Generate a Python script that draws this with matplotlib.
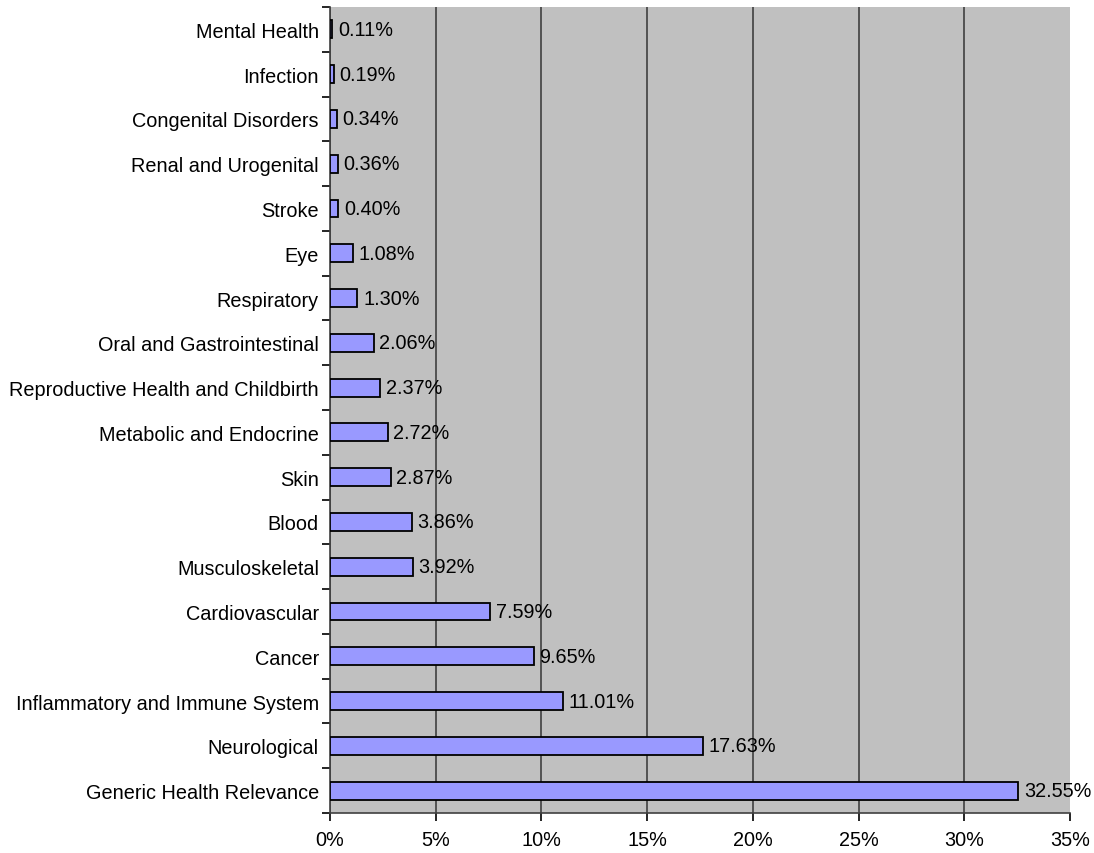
import matplotlib.pyplot as plt
import numpy as np

plt.rcParams['font.family'] = ['Liberation Sans', 'DejaVu Sans']

# categories bottom to top
categories = ["Generic Health Relevance", "Neurological", "Inflammatory and Immune System",
              "Cancer", "Cardiovascular", "Musculoskeletal", "Blood", "Skin",
              "Metabolic and Endocrine", "Reproductive Health and Childbirth",
              "Oral and Gastrointestinal", "Respiratory", "Eye", "Stroke",
              "Renal and Urogenital", "Congenital Disorders", "Infection", "Mental Health"]
values = [32.55, 17.63, 11.01, 9.65, 7.59, 3.92, 3.86, 2.87, 2.72, 2.37,
          2.06, 1.30, 1.08, 0.40, 0.36, 0.34, 0.19, 0.11]
xticks = [0, 5, 10, 15, 20, 25, 30, 35]

fs = 14.3

fig = plt.figure(figsize=(10.94, 8.54), dpi=100)
ax = fig.add_axes([330/1094, 1-814/854, 740/1094, 806/854])
ax.set_facecolor('#C0C0C0')

y = np.arange(len(categories))
ax.barh(y, values, height=0.4, color='#9999FF', edgecolor='black', linewidth=1.3, zorder=3)

# value labels
for yi, v in zip(y, values):
    ax.annotate(f"{v:.2f}%", (v, yi), xytext=(4, 0), textcoords='offset points',
                va='center', ha='left', fontsize=fs, zorder=4)

ax.set_xlim(0, 35)
ax.set_ylim(-0.5, len(categories) - 0.5)
ax.set_xticks(xticks)
ax.set_xticklabels([f"{t}%" for t in xticks], fontsize=fs)
ax.xaxis.grid(True, color='#404040', linewidth=1.2, zorder=1)
ax.get_xgridlines()[-1].set_visible(False)
ax.set_axisbelow(True)

# category labels centred, tick marks on boundaries
ax.set_yticks(y)
ax.set_yticklabels(categories, fontsize=fs)
ax.tick_params(axis='y', which='major', length=0, pad=8)
ax.set_yticks(np.arange(-0.5, len(categories), 1.0), minor=True)
ax.tick_params(axis='y', which='minor', length=6, width=1.2, direction='out')
ax.tick_params(axis='x', length=6, width=1.2, direction='out', pad=6)

for s in ['top', 'right']:
    ax.spines[s].set_visible(False)
ax.spines['left'].set_linewidth(1.2)
ax.spines['bottom'].set_linewidth(1.2)
ax.spines['left'].set_color('#404040')
ax.spines['bottom'].set_color('#404040')

fig.savefig('out.png', dpi=100)
